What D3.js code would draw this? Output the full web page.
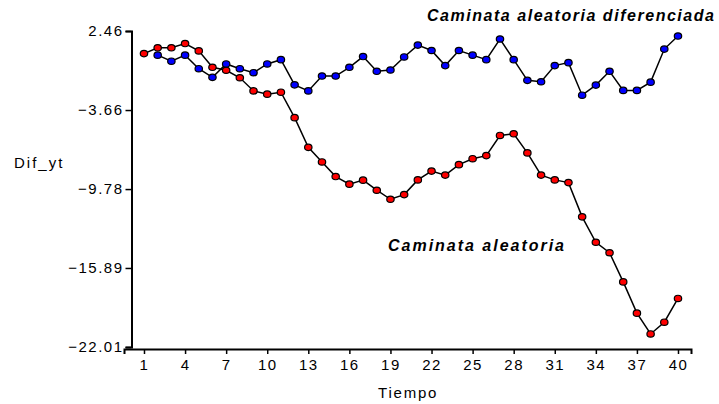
<!DOCTYPE html>
<html>
<head>
<meta charset="utf-8">
<script src="https://cdn.jsdelivr.net/npm/d3@7"></script>
<style>
  html, body { margin: 0; padding: 0; background: #fff; }
  svg { display: block; font-family: "Liberation Sans", Arial, sans-serif; }
</style>
</head>
<body>
<svg id="chart" width="719" height="404"></svg>
<script>
// Time index (1..40)
const tiempo = d3.range(1, 41);

// Random walk y_t
const caminata = [
  0.71, 1.16, 1.16, 1.49, 0.92, -0.35, -0.58, -1.16, -2.18, -2.43,
  -2.28, -4.25, -6.55, -7.68, -8.81, -9.40, -9.09, -9.87, -10.57, -10.21,
  -9.07, -8.39, -8.70, -7.89, -7.43, -7.19, -5.63, -5.50, -6.98, -8.70,
  -9.07, -9.28, -11.93, -13.90, -14.71, -16.97, -19.39, -21.00, -20.09, -18.25
];

// Differenced random walk (starts at t = 2)
const diferenciada = [
  null, 0.59, 0.12, 0.59, -0.46, -1.13, -0.09, -0.46, -0.77, -0.09,
  0.24, -1.71, -2.18, -1.03, -1.03, -0.35, 0.48, -0.66, -0.56, 0.45,
  1.37, 0.95, -0.22, 0.95, 0.59, 0.24, 1.84, 0.24, -1.36, -1.47,
  -0.22, 0.01, -2.51, -1.73, -0.66, -2.14, -2.14, -1.50, 1.06, 2.07
];

const xTicks = [1, 4, 7, 10, 13, 16, 19, 22, 25, 28, 31, 34, 37, 40];
const yTicks = [2.46, -3.66, -9.78, -15.89, -22.01];

const svg = d3.select("#chart");

const x = d3.scaleLinear().domain([-0.46, 40.95]).range([124, 691]);
const y = d3.scaleLinear().domain([-22.01, 2.46]).range([347, 31]);

// Y axis
const yAxis = svg.append("g")
  .attr("transform", "translate(131.5,0)")
  .call(d3.axisLeft(y).tickValues(yTicks).tickFormat(d3.format(".2f")).tickSizeOuter(0).tickSize(6).tickPadding(2));
yAxis.select(".domain").attr("stroke", "#000").attr("stroke-width", 2);
yAxis.selectAll(".tick line").attr("stroke", "#000").attr("stroke-width", 1.5);
yAxis.selectAll(".tick text")
  .attr("fill", "#000").style("font-size", "15px").style("letter-spacing", "1.5px")
  .attr("font-family", null);

// X axis
const xAxis = svg.append("g")
  .attr("transform", "translate(0,349)")
  .call(d3.axisBottom(x).tickValues(xTicks).tickFormat(d3.format("d")).tickSizeOuter(0).tickSize(5).tickPadding(5));
xAxis.select(".domain").attr("stroke", "#000").attr("stroke-width", 2);
xAxis.selectAll(".tick line").attr("stroke", "#000").attr("stroke-width", 1.5);
xAxis.selectAll(".tick text")
  .attr("fill", "#000").style("font-size", "15px").style("letter-spacing", "1.5px")
  .attr("font-family", null);

// Axis titles
svg.append("text")
  .attr("x", 14).attr("y", 168)
  .style("font-size", "15px").style("letter-spacing", "2px")
  .text("Dif_yt");
svg.append("text")
  .attr("x", 378).attr("y", 398)
  .style("font-size", "15px").style("letter-spacing", "1.8px")
  .text("Tiempo");

// Series
const series = [
  { values: caminata, color: "#ff0000" },
  { values: diferenciada, color: "#0000ff" }
];

const line = d3.line()
  .defined(d => d.v !== null)
  .x(d => x(d.t))
  .y(d => y(d.v));

series.forEach(s => {
  const pts = tiempo.map((t, i) => ({ t, v: s.values[i] }));
  svg.append("path")
    .datum(pts)
    .attr("fill", "none")
    .attr("stroke", "#000")
    .attr("stroke-width", 1.5)
    .attr("d", line);
  svg.append("g")
    .selectAll("ellipse")
    .data(pts.filter(d => d.v !== null))
    .join("ellipse")
    .attr("cx", d => x(d.t))
    .attr("cy", d => y(d.v))
    .attr("rx", 3.7)
    .attr("ry", 3.2)
    .attr("fill", s.color)
    .attr("stroke", "#000")
    .attr("stroke-width", 1.2);
});

// Series labels
svg.append("text")
  .attr("x", 427).attr("y", 21)
  .attr("textLength", 287).attr("lengthAdjust", "spacing")
  .style("font-size", "16px").style("font-weight", "bold").style("font-style", "italic")
  .text("Caminata aleatoria diferenciada");
svg.append("text")
  .attr("x", 388).attr("y", 251)
  .attr("textLength", 176).attr("lengthAdjust", "spacing")
  .style("font-size", "16px").style("font-weight", "bold").style("font-style", "italic")
  .text("Caminata aleatoria");
</script>
</body>
</html>
